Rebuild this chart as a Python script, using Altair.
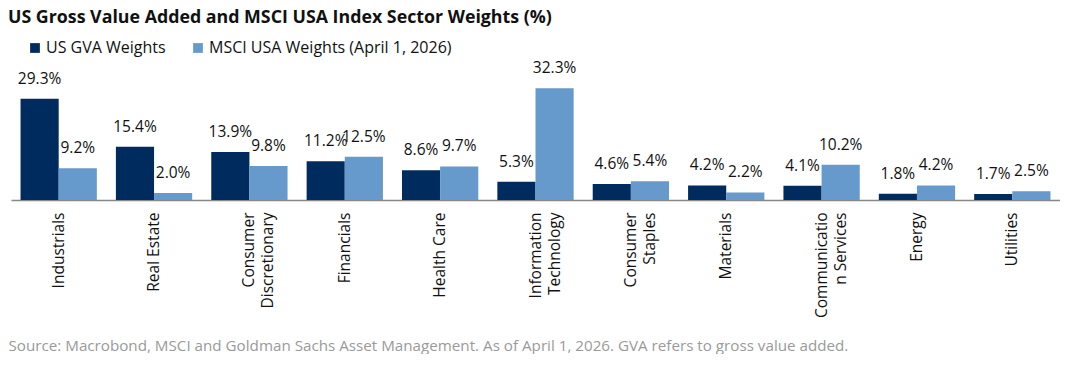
import altair as alt
import pandas as pd

sectors = ["Industrials", "Real Estate", "Consumer\nDiscretionary", "Financials", "Health Care",
           "Information\nTechnology", "Consumer\nStaples", "Materials", "Communicatio\nn Services",
           "Energy", "Utilities"]
gva = [29.3, 15.4, 13.9, 11.2, 8.6, 5.3, 4.6, 4.2, 4.1, 1.8, 1.7]
msci = [9.2, 2.0, 9.8, 12.5, 9.7, 32.3, 5.4, 2.2, 10.2, 4.2, 2.5]
series = ["US GVA Weights", "MSCI USA Weights (April 1, 2026)"]
colors = ["#002B5F", "#6699CC"]

rows = []
for s, a, b in zip(sectors, gva, msci):
    rows.append({"sector": s, "series": series[0], "value": a})
    rows.append({"sector": s, "series": series[1], "value": b})
df = pd.DataFrame(rows)

FONT = "Open Sans"

x_enc = alt.X("sector:N", sort=sectors,
              scale=alt.Scale(paddingInner=0.2, paddingOuter=0.1),
              axis=alt.Axis(title="Source: Macrobond, MSCI and Goldman Sachs Asset Management. As of April 1, 2026. GVA refers to gross value added.",
                            titleAnchor="start", titleAlign="left", titleX=-3, titleY=145,
                            titleBaseline="middle", titleColor="#9a9a9a", titleFontSize=15.2,
                            titleFontWeight="normal", titleFont=FONT,
                            labelAngle=-90, labelAlign="right", labelBaseline="middle",
                            labelFontSize=15.5, labelFont=FONT, labelColor="#111",
                            labelExpr="split(datum.label, '\\n')", labelPadding=12,
                            labelLineHeight=19,
                            ticks=False, domainColor="#888", domainWidth=1.5, grid=False))
y_enc = alt.Y("value:Q", scale=alt.Scale(domain=[0, 35]), axis=None)
xo = alt.XOffset("series:N", sort=series)

bars = alt.Chart(df).mark_bar().encode(
    x=x_enc, y=y_enc, xOffset=xo,
    color=alt.Color("series:N", sort=series, scale=alt.Scale(domain=series, range=colors),
                    legend=alt.Legend(title=None, orient="none", legendX=16, legendY=-39,
                                      direction="horizontal", symbolType="square",
                                      symbolSize=95, labelFontSize=16, labelFont=FONT,
                                      labelColor="#111", columnPadding=24, labelLimit=400,
                                      labelOffset=3, symbolStrokeWidth=0))
)
labels = alt.Chart(df).mark_text(dy=-20, fontSize=15.5, font=FONT, color="#111").encode(
    x=alt.X("sector:N", sort=sectors), y=y_enc, xOffset=xo,
    text=alt.Text("label:N")
).transform_calculate(label="format(datum.value, '.1f') + '%'")

chart = alt.layer(bars, labels).properties(
    width=1049, height=121,
    padding={"left": 0, "top": 1, "right": 0, "bottom": 0},
    title=alt.TitleParams("US Gross Value Added and MSCI USA Index Sector Weights (%)",
                          anchor="start", frame="bounds", offset=13, fontSize=17.8,
                          font=FONT, fontWeight="bold", color="#111")
).configure_view(stroke=None)

chart.save("out.html", embed_options={"renderer": "svg", "actions": False})
